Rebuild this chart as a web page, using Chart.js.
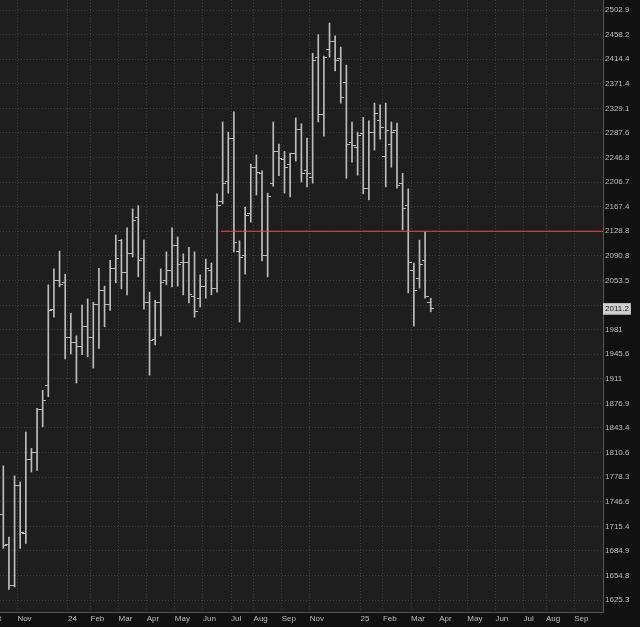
<!DOCTYPE html>
<html lang="en">
<head>
  <meta charset="UTF-8">
  <title>Weekly OHLC</title>
  <script src="https://cdn.jsdelivr.net/npm/chart.js"></script>
  <style>
    body { margin: 0; background: #111; }
    #wrap { width: 640px; height: 627px; }
  </style>
</head>
<body>
  <div id="wrap"><canvas id="ohlcChart"></canvas></div>

  <script>
    // weekly bars, index 0 = first visible week (Oct 2023)
    const opens = [1730, 1693, 1643, 1767, 1707, 1802, 1811, 1868, 1902, 2011,
      2053, 2050, 1970, 1963, 1957, 1986, 1969, 2017, 2038, 2018,
      2072, 2115, 2065, 2094, 2151, 2087, 2020, 1967, 2020, 2054,
      2068, 2107, 2080, 2081, 2029, 2027, 2045, 2069, 2042, 2176,
      2207, 2279, 2097, 2091, 2156, 2230, 2221, 2092, 2205, 2256,
      2243, 2236, 2253, 2294, 2226, 2215, 2418, 2319, 2432, 2445,
      2415, 2374, 2271, 2264, 2287, 2197, 2289, 2308, 2249, 2269,
      2291, 2204, 2170, 2069, 2056, 2084, 2021];
    const highs = [1793, 1702, 1780, 1772, 1838, 1816, 1870, 1895, 2047, 2071,
      2098, 2063, 2005, 1972, 2017, 2026, 2021, 2072, 2045, 2084,
      2123, 2116, 2134, 2164, 2169, 2115, 2036, 2024, 2071, 2097,
      2134, 2120, 2094, 2104, 2097, 2062, 2086, 2080, 2188, 2306,
      2289, 2323, 2114, 2167, 2236, 2251, 2225, 2189, 2306, 2269,
      2257, 2254, 2313, 2303, 2279, 2425, 2458, 2420, 2479, 2456,
      2436, 2404, 2306, 2289, 2314, 2308, 2338, 2335, 2338, 2306,
      2304, 2221, 2196, 2080, 2115, 2128, 2027];
    const lows = [1688, 1638, 1641, 1688, 1694, 1785, 1787, 1845, 1886, 1999,
      2044, 1939, 1946, 1905, 1945, 1942, 1926, 1954, 1985, 2009,
      2050, 2041, 2032, 2089, 2059, 2011, 1916, 1959, 1972, 2047,
      2044, 2045, 2032, 2020, 1999, 2014, 2027, 2032, 2036, 2172,
      2189, 2097, 1992, 2063, 2143, 2186, 2083, 2059, 2200, 2217,
      2189, 2183, 2241, 2207, 2199, 2205, 2306, 2282, 2418, 2394,
      2338, 2213, 2239, 2218, 2188, 2178, 2259, 2277, 2199, 2231,
      2197, 2131, 2035, 1986, 2042, 2027, 2007];
    const closes = [1691, 1643, 1767, 1708, 1802, 1810, 1868, 1881, 2009, 2053,
      2047, 1970, 1963, 1956, 1986, 1970, 2017, 2038, 2018, 2072,
      2087, 2065, 2095, 2146, 2084, 2020, 1965, 2020, 2050, 2068,
      2106, 2078, 2081, 2032, 2007, 2045, 2071, 2042, 2169, 2205,
      2279, 2112, 2089, 2154, 2230, 2223, 2092, 2184, 2256, 2246,
      2230, 2254, 2294, 2220, 2221, 2413, 2318, 2418, 2445, 2413,
      2348, 2269, 2267, 2284, 2197, 2289, 2321, 2296, 2291, 2289,
      2202, 2165, 2080, 2039, 2078, 2029, 2011.2];

    // month boundaries (in week index) and their labels
    const monthPos = [-2.6, 2.5, 11.5, 15.5, 20.5, 25.5, 30.5, 35.5, 40.5, 44.5, 49.5,
      54.5, 63.5, 67.5, 72.5, 77.5, 82.5, 87.5, 92.5, 96.5, 101.5];
    const monthLabels = ['Oct', 'Nov', '24', 'Feb', 'Mar', 'Apr', 'May', 'Jun', 'Jul', 'Aug', 'Sep',
      'Nov', '25', 'Feb', 'Mar', 'Apr', 'May', 'Jun', 'Jul', 'Aug', 'Sep'];

    const priceTicks = [1625.3, 1654.8, 1684.9, 1715.4, 1746.6, 1778.3, 1810.6, 1843.4, 1876.9,
      1911, 1945.6, 1981, 2016.8, 2053.5, 2090.8, 2128.8, 2167.4, 2206.7, 2246.8, 2287.6,
      2329.1, 2371.4, 2414.4, 2458.2, 2502.9];
    const hiddenTick = 2016.8;   // covered by the last price box
    const lastPrice = 2011.2;

    const level = 2128.8;
    const levelStart = 38.7;

    const xMin = -0.59, xMax = 106.63;
    const yMin = 1611.2, yMax = 2521.3;

    const barColor = '#bdbdbd';
    const gridColor = '#414141';
    const labelColor = '#bdbdbd';

    function tickImage(side) {
      const c = document.createElement('canvas');
      c.width = 7; c.height = 1;
      const g = c.getContext('2d');
      g.fillStyle = barColor;
      g.fillRect(side === 'open' ? 0 : 4, 0, 3, 1);
      return c;
    }

    const background = {
      id: 'background',
      beforeDraw(chart) {
        const { ctx, chartArea: a } = chart;
        ctx.save();
        ctx.fillStyle = '#111111';
        ctx.fillRect(0, 0, chart.width, chart.height);
        ctx.fillStyle = '#1e1e1e';
        ctx.fillRect(a.left, a.top, a.right - a.left, a.bottom - a.top);
        ctx.restore();
      }
    };

    const idx = opens.map((_, i) => i);

    new Chart(document.getElementById('ohlcChart'), {
      type: 'bar',
      data: {
        datasets: [
          {
            data: idx.map(i => ({ x: i, y: [lows[i], highs[i]] })),
            backgroundColor: barColor, borderWidth: 0, barThickness: 1, order: 2
          },
          {
            type: 'scatter',
            data: idx.map(i => ({ x: i, y: opens[i] })),
            pointStyle: tickImage('open'), pointRadius: 3, order: 1
          },
          {
            type: 'scatter',
            data: idx.map(i => ({ x: i, y: closes[i] })),
            pointStyle: tickImage('close'), pointRadius: 3, order: 1
          },
          {
            type: 'line',
            data: [{ x: levelStart, y: level }, { x: xMax, y: level }],
            borderColor: '#d25858', borderWidth: 1, pointRadius: 0, order: 0
          }
        ]
      },
      options: {
        responsive: true,
        maintainAspectRatio: false,
        animation: false,
        events: [],
        layout: { padding: 0, autoPadding: false },
        plugins: { legend: { display: false }, tooltip: { enabled: false } },
        scales: {
          x: {
            type: 'linear',
            offset: false,
            min: xMin, max: xMax, bounds: 'data',
            afterBuildTicks: s => { s.ticks = monthPos.map(v => ({ value: v })); },
            afterFit: s => { s.height = 15; s.paddingLeft = 0; s.paddingRight = 0; },
            grid: { color: gridColor, drawTicks: false, offset: false },
            border: { color: '#555', dash: [1, 2] },
            ticks: {
              autoSkip: false, maxRotation: 0, align: 'start', padding: 2,
              color: labelColor, font: { family: 'Liberation Sans', size: 8 },
              callback: (v, i) => monthLabels[i]
            }
          },
          y: {
            type: 'logarithmic',
            position: 'right',
            min: yMin, max: yMax, bounds: 'data',
            afterBuildTicks: s => {
              s.ticks = priceTicks.concat([lastPrice]).sort((a, b) => a - b).map(v => ({ value: v }));
            },
            afterFit: s => { s.width = 37; s.paddingTop = 0; s.paddingBottom = 0; },
            grid: {
              drawTicks: false,
              color: c => (c.tick && c.tick.value === lastPrice) ? 'rgba(0,0,0,0)' : gridColor
            },
            border: { color: '#555', dash: [1, 2] },
            ticks: {
              autoSkip: false, padding: 2,
              font: { family: 'Liberation Sans', size: 8 },
              color: c => (c.tick && c.tick.value === lastPrice) ? '#1a1a1a' : labelColor,
              showLabelBackdrop: c => !!(c.tick && c.tick.value === lastPrice),
              backdropColor: '#cfcfcf',
              backdropPadding: { top: 1, bottom: 1, left: 2, right: 2 },
              callback: v => v === hiddenTick ? '' : String(v)
            }
          }
        }
      },
      plugins: [background]
    });
  </script>
</body>
</html>
